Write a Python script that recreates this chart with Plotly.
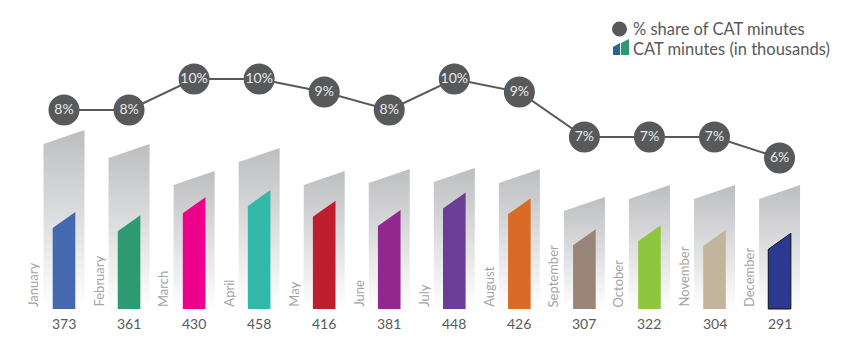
import plotly.graph_objects as go

# ---------------- data ----------------
months = ["January", "February", "March", "April", "May", "June",
          "July", "August", "September", "October", "November", "December"]
cat_minutes = [373, 361, 430, 458, 416, 381, 448, 426, 307, 322, 304, 291]
share_pct = [8.43, 8.43, 10.0, 10.0, 9.34, 8.43, 10.0, 9.34, 7.06, 7.06, 7.06, 6.0]
backdrop_levels = [688, 635, 531, 619, 531, 538, 542, 538, 431, 477, 477, 477]
bar_colors = ["#4469b1", "#2e9a73", "#ec008c", "#31b9aa", "#be1e2d", "#92278f",
              "#6a3d96", "#d96b27", "#9a8478", "#8dc63f", "#c2b59b", "#2b3990"]

# ---------------- layout constants ----------------
OFF = 8                      # default page body margin
W, H = 859 - OFF, 359 - OFF  # figure size
PX_PER_IDX = 65.05
X0_PX = 64 - OFF
BASE_PX = 309 - OFF
PX_PER_UNIT = 0.26
SHARE_REF_PX, SHARE_REF_VAL, PX_PER_PCT = 79 - OFF, 10.0, 19.75
FONT = "Lato, 'Open Sans', sans-serif"
DARK = "#58595b"

grey_half = 20.5 / PX_PER_IDX
grey_slope = 14 / PX_PER_UNIT
bar_half = 11.3 / PX_PER_IDX
bar_slope = 16 / PX_PER_UNIT

fig = go.Figure()

# backdrop shapes with gradient
for i, b in enumerate(backdrop_levels):
    fig.add_trace(go.Scatter(
        x=[i - grey_half, i - grey_half, i + grey_half, i + grey_half, i - grey_half],
        y=[0, b - grey_slope, b, 0, 0],
        mode="lines", fill="toself", line=dict(width=0),
        fillgradient=dict(type="vertical",
                          colorscale=[[0, "#ffffff"], [1, "#bdbec0"]]),
        hoverinfo="skip", showlegend=False))

# colored sloped bars
for i, v in enumerate(cat_minutes):
    outline = dict(width=1, color="#111111") if months[i] == "December" else dict(width=0)
    fig.add_trace(go.Scatter(
        x=[i - bar_half, i - bar_half, i + bar_half, i + bar_half, i - bar_half],
        y=[0, v - bar_slope, v, 0, 0],
        mode="lines", fill="toself", fillcolor=bar_colors[i], line=outline,
        hoverinfo="skip", showlegend=False))

# share line
fig.add_trace(go.Scatter(
    x=list(range(len(months))), y=share_pct, yaxis="y2",
    mode="lines+markers+text",
    text=[f"{round(v)}%" for v in share_pct],
    textposition="middle center",
    textfont=dict(family=FONT, size=14, color="#e9e9e9"),
    line=dict(color=DARK, width=2),
    marker=dict(size=31, color=DARK, line=dict(width=0)),
    cliponaxis=False, hoverinfo="skip", showlegend=False))

annotations = []
for i, (m, v) in enumerate(zip(months, cat_minutes)):
    annotations.append(dict(
        x=i, y=0, xref="x", yref="y", text=m, textangle=-90,
        xanchor="center", yanchor="bottom", xshift=-31, showarrow=False,
        font=dict(family=FONT, size=13, color="#a3a3a5")))
    annotations.append(dict(
        x=i, y=0, xref="x", yref="y", text=str(v),
        xanchor="center", yanchor="middle", yshift=-14, showarrow=False,
        font=dict(family=FONT, size=14, color=DARK)))


def px_x(x):
    return (x - OFF) / W


def px_y(y):
    return 1 - (y - OFF) / H


# legend texts
annotations.append(dict(x=px_x(631), y=px_y(29), xref="paper", yref="paper",
                        text="% share of CAT minutes", xanchor="left", yanchor="middle",
                        showarrow=False, font=dict(family=FONT, size=16.5, color=DARK)))
annotations.append(dict(x=px_x(631), y=px_y(49), xref="paper", yref="paper",
                        text="CAT minutes (in thousands)", xanchor="left", yanchor="middle",
                        showarrow=False, font=dict(family=FONT, size=16.5, color=DARK)))


def px_path(points):
    return "M " + " L ".join(f"{px_x(x)},{px_y(y)}" for x, y in points) + " Z"


shapes = [
    dict(type="circle", xref="paper", yref="paper",
         x0=px_x(612), x1=px_x(627), y0=px_y(36.5), y1=px_y(21.5),
         fillcolor=DARK, line=dict(width=0)),
    dict(type="path", xref="paper", yref="paper",
         path=px_path([(613, 55), (613, 47), (620, 43), (620, 55)]),
         fillcolor="#1d6a8c", line=dict(width=0)),
    dict(type="path", xref="paper", yref="paper",
         path=px_path([(621, 55), (621, 43), (629, 39), (629, 55)]),
         fillcolor="#2e9a73", line=dict(width=0)),
]

fig.update_layout(
    width=W, height=H,
    margin=dict(l=0, r=0, t=0, b=0),
    paper_bgcolor="white", plot_bgcolor="white",
    xaxis=dict(range=[-X0_PX / PX_PER_IDX, (W - X0_PX) / PX_PER_IDX],
               visible=False, fixedrange=True),
    yaxis=dict(range=[-(H - BASE_PX) / PX_PER_UNIT, BASE_PX / PX_PER_UNIT],
               visible=False, fixedrange=True),
    yaxis2=dict(range=[SHARE_REF_VAL - (H - SHARE_REF_PX) / PX_PER_PCT,
                       SHARE_REF_VAL + SHARE_REF_PX / PX_PER_PCT],
                overlaying="y", visible=False, fixedrange=True),
    annotations=annotations, shapes=shapes, showlegend=False,
)

fig.write_html("out.html")
